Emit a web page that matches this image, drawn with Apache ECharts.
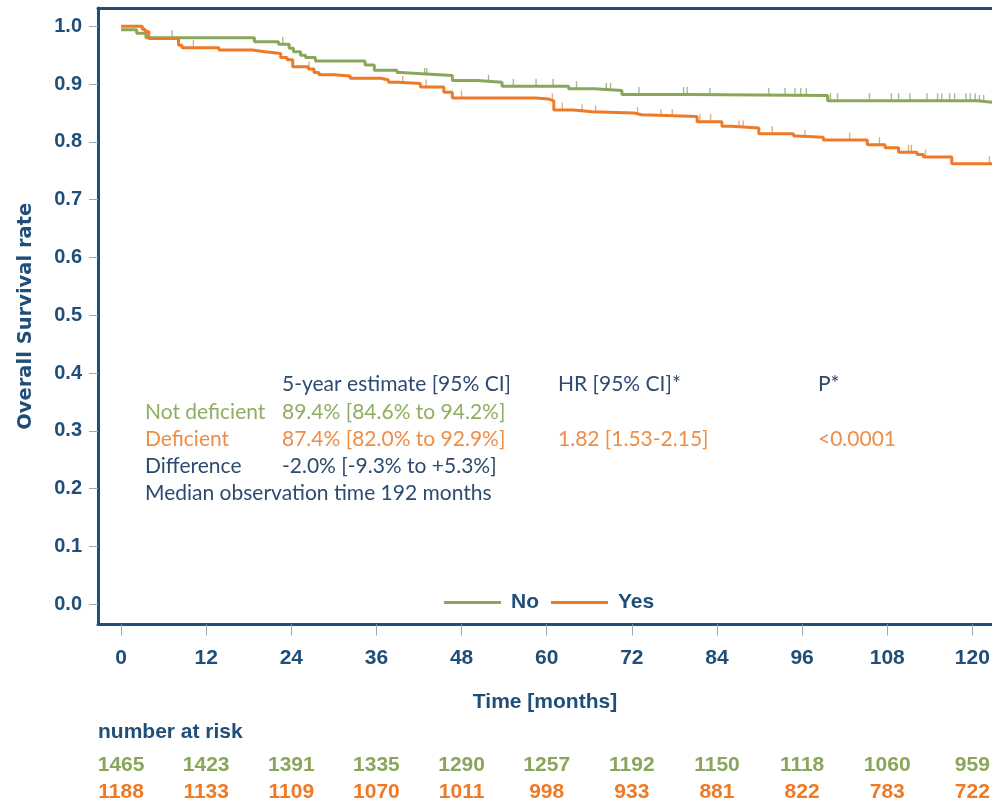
<!DOCTYPE html>
<html>
<head>
<meta charset="utf-8">
<script src="https://cdn.jsdelivr.net/npm/echarts@6/dist/echarts.min.js"></script>
<style>
html,body{margin:0;padding:0;background:#fff;}
#chart{width:992px;height:804px;}
</style>
</head>
<body>
<div id="chart"></div>
<script>
// ---- data ----
const noTimes = [0, 2.2, 3.5, 18.8, 22.2, 23.7, 24.3, 25.3, 26.0, 27.4, 34.4, 35.7, 38.9, 39.4, 42.4, 46.7, 50.2, 53.7, 63.1, 66.7, 70.6, 80.1, 99.6, 120.7];
const noSurv  = [0.994, 0.988, 0.980, 0.973, 0.969, 0.962, 0.956, 0.950, 0.946, 0.940, 0.933, 0.924, 0.920, 0.918, 0.915, 0.906, 0.903, 0.896, 0.892, 0.889, 0.882, 0.880, 0.871, 0.868];
const yesTimes = [0, 3.0, 3.4, 3.9, 8.1, 8.6, 13.8, 18.5, 20.3, 22.5, 23.4, 24.2, 26.4, 27.2, 27.9, 30.0, 32.3, 36.6, 37.7, 39.1, 42.2, 45.5, 46.7, 58.4, 60.3, 61.0, 63.8, 66.4, 72.3, 73.4, 81.2, 84.7, 86.1, 89.9, 94.8, 95.3, 99.0, 105.2, 107.7, 109.6, 112.2, 113.1, 117.1];
const yesSurv  = [1.000, 0.995, 0.991, 0.979, 0.967, 0.963, 0.959, 0.956, 0.953, 0.946, 0.942, 0.930, 0.926, 0.920, 0.916, 0.914, 0.910, 0.907, 0.903, 0.901, 0.895, 0.886, 0.876, 0.874, 0.871, 0.855, 0.852, 0.850, 0.847, 0.844, 0.835, 0.827, 0.824, 0.814, 0.810, 0.808, 0.803, 0.795, 0.790, 0.782, 0.778, 0.774, 0.762];
const followUpEnd = 123.3;
const noCensor  = [7.2, 22.8, 42.8, 43.1, 51.8, 55.3, 58.5, 60.9, 64.2, 68.4, 69.0, 73.0, 79.3, 79.8, 83.0, 91.3, 93.6, 95.0, 95.8, 96.6, 100.0, 101.0, 105.5, 108.6, 109.6, 111.2, 113.6, 115.1, 115.7, 116.8, 117.5, 119.1, 119.7, 120.4, 121.0, 121.6];
const yesCensor = [10.2, 26.5, 39.7, 43.0, 48.0, 60.8, 62.2, 65.0, 66.9, 72.8, 76.1, 77.7, 81.6, 83.1, 87.1, 87.7, 91.8, 96.4, 102.7, 106.9, 111.0, 111.4, 113.4, 122.4];
const xTicks = [0, 12, 24, 36, 48, 60, 72, 84, 96, 108, 120];
const yTicks = [0, 0.1, 0.2, 0.3, 0.4, 0.5, 0.6, 0.7, 0.8, 0.9, 1.0];
const riskNo  = [1465, 1423, 1391, 1335, 1290, 1257, 1192, 1150, 1118, 1060, 959];
const riskYes = [1188, 1133, 1109, 1070, 1011, 998, 933, 881, 822, 783, 722];
const seriesNames = ['No', 'Yes'];

// ---- styling ----
const NAVY = '#1f4e79';
const GREEN = '#8aa65b';
const ORANGE = '#ef7a26';
const BOLDF = "'Liberation Sans', Arial, sans-serif";
const TXT = "Lato, 'Open Sans', sans-serif";

function stepData(times, vals) {
  const d = times.map((t, i) => [t, vals[i]]);
  d.push([followUpEnd, vals[vals.length - 1]]);
  return d;
}
function valueAt(times, vals, t) {
  let v = vals[0];
  for (let i = 0; i < times.length; i++) { if (times[i] <= t) v = vals[i]; }
  return v;
}
function censorData(cens, times, vals) {
  return cens.map(t => [t, valueAt(times, vals, t)]);
}

const xMin = -3.25, xMax = 122.77;
const baseX = {
  type: 'value', min: xMin, max: xMax, gridIndex: 0,
  splitLine: { show: false }
};
function riskAxis(values, color, offset) {
  return Object.assign({}, baseX, {
    position: 'bottom', offset: offset,
    axisLine: { show: false, onZero: false }, axisTick: { show: false },
    axisLabel: {
      customValues: xTicks, margin: 0, color: color,
      fontFamily: BOLDF, fontWeight: 'bold', fontSize: 21,
      formatter: v => { const i = xTicks.indexOf(Math.round(v)); return i >= 0 ? String(values[i]) : ''; }
    }
  });
}

const chart = echarts.init(document.getElementById('chart'), null, { renderer: 'canvas' });
chart.setOption({
  animation: false,
  backgroundColor: '#fff',
  grid: { left: 98, top: 8, bottom: 179.5, right: 0, show: false, outerBoundsMode: 'none' },
  legend: {
    data: seriesNames, left: 444, top: 592, padding: 0, icon: 'rect', itemWidth: 57, itemHeight: 3, itemGap: 12,
    textStyle: { color: NAVY, fontFamily: BOLDF, fontWeight: 'bold', fontSize: 21, padding: [0, 0, 0, 5] }
  },
  xAxis: [
    Object.assign({}, baseX, {
      position: 'bottom',
      name: 'Time [months]', nameLocation: 'middle', nameGap: 67,
      nameTextStyle: { color: NAVY, fontFamily: BOLDF, fontWeight: 'bold', fontSize: 21 },
      axisLine: { show: true, onZero: false, lineStyle: { color: NAVY, width: 3 } },
      axisTick: { show: true, customValues: xTicks, length: 11, lineStyle: { color: '#9aa8b8', width: 1 } },
      axisLabel: { customValues: xTicks, margin: 23, color: NAVY, fontFamily: BOLDF, fontWeight: 'bold', fontSize: 21 }
    }),
    riskAxis(riskNo, GREEN, 130),
    riskAxis(riskYes, ORANGE, 157),
    Object.assign({}, baseX, {
      position: 'top',
      axisLine: { show: true, onZero: false, lineStyle: { color: NAVY, width: 3 } },
      axisTick: { show: false }, axisLabel: { show: false }
    })
  ],
  yAxis: {
    type: 'value', min: -0.0351, max: 1.0316,
    name: 'Overall Survival rate', nameLocation: 'middle', nameGap: 62, nameRotate: 90,
    nameTextStyle: { color: NAVY, fontFamily: "'DejaVu Sans', sans-serif", fontWeight: 'bold', fontSize: 19.5 },
    splitLine: { show: false },
    axisLine: { show: true, onZero: false, lineStyle: { color: NAVY, width: 3 } },
    axisTick: { show: true, customValues: yTicks, length: 9, lineStyle: { color: '#9aa8b8', width: 1 } },
    axisLabel: { customValues: yTicks, margin: 16, color: NAVY, fontFamily: BOLDF, fontWeight: 'bold', fontSize: 20,
      formatter: v => v.toFixed(1) }
  },
  series: [
    { name: 'No', type: 'line', step: 'end', showSymbol: false, symbol: 'none', data: stepData(noTimes, noSurv),
      lineStyle: { color: GREEN, width: 3 }, itemStyle: { color: GREEN }, z: 3 },
    { name: 'Yes', type: 'line', step: 'end', showSymbol: false, symbol: 'none', data: stepData(yesTimes, yesSurv),
      lineStyle: { color: ORANGE, width: 3 }, itemStyle: { color: ORANGE }, z: 4 },
    { name: 'No censored', type: 'scatter', data: censorData(noCensor, noTimes, noSurv),
      symbol: 'rect', symbolSize: [1.4, 7], symbolOffset: [0, -4], itemStyle: { color: '#95a96c' }, z: 2 },
    { name: 'Yes censored', type: 'scatter', data: censorData(yesCensor, yesTimes, yesSurv),
      symbol: 'rect', symbolSize: [1.4, 7], symbolOffset: [0, -4], itemStyle: { color: '#dc9a5e' }, z: 2 }
  ],
  graphic: [
    { type: 'text', x: 282, y: 384.5, style: { text: '5-year estimate [95% CI]', font: '21px ' + TXT, fill: '#2d4a70', verticalAlign: 'middle' } },
    { type: 'text', x: 558, y: 384.5, style: { text: 'HR [95% CI]*', font: '21px ' + TXT, fill: '#2d4a70', verticalAlign: 'middle' } },
    { type: 'text', x: 818, y: 384.5, style: { text: 'P*', font: '21px ' + TXT, fill: '#2d4a70', verticalAlign: 'middle' } },
    { type: 'text', x: 145, y: 412, style: { text: 'Not deficient', font: '21px ' + TXT, fill: '#8fae62', verticalAlign: 'middle' } },
    { type: 'text', x: 282, y: 412, style: { text: '89.4% [84.6% to 94.2%]', font: '21px ' + TXT, fill: '#8fae62', verticalAlign: 'middle' } },
    { type: 'text', x: 145, y: 439.5, style: { text: 'Deficient', font: '21px ' + TXT, fill: '#ee8d48', verticalAlign: 'middle' } },
    { type: 'text', x: 282, y: 439.5, style: { text: '87.4% [82.0% to 92.9%]', font: '21px ' + TXT, fill: '#ee8d48', verticalAlign: 'middle' } },
    { type: 'text', x: 558, y: 439.5, style: { text: '1.82 [1.53-2.15]', font: '21px ' + TXT, fill: '#ee8d48', verticalAlign: 'middle' } },
    { type: 'text', x: 818, y: 439.5, style: { text: '<0.0001', font: '21px ' + TXT, fill: '#ee8d48', verticalAlign: 'middle' } },
    { type: 'text', x: 145, y: 466.5, style: { text: 'Difference', font: '21px ' + TXT, fill: '#2d4a70', verticalAlign: 'middle' } },
    { type: 'text', x: 282, y: 466.5, style: { text: '-2.0% [-9.3% to +5.3%]', font: '21px ' + TXT, fill: '#2d4a70', verticalAlign: 'middle' } },
    { type: 'text', x: 145, y: 493.5, style: { text: 'Median observation time 192 months', font: '21px ' + TXT, fill: '#2d4a70', verticalAlign: 'middle' } },
    { type: 'text', x: 98, y: 732, style: { text: 'number at risk', font: 'bold 21px ' + BOLDF, fill: NAVY, verticalAlign: 'middle' } }
  ]
});
</script>
</body>
</html>
